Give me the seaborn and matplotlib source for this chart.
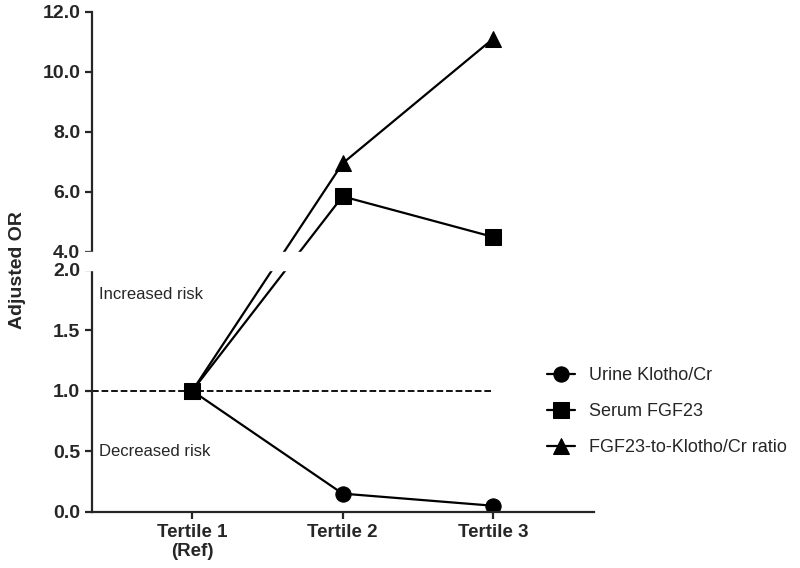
import numpy as np
import pandas as pd
import matplotlib.pyplot as plt
import matplotlib.patches as mpatches
import seaborn as sns

tertiles = [1, 2, 3]
tick_labels = ["Tertile 1\n(Ref)", "Tertile 2", "Tertile 3"]
klotho = [1.0, 0.15, 0.05]
fgf23 = [1.0, 5.85, 4.5]
ratio = [1.0, 6.95, 11.1]
names = ["Urine Klotho/Cr", "Serum FGF23", "FGF23-to-Klotho/Cr ratio"]
markers = ["o", "s", "^"]
low_ticks = [0, 0.5, 1.0, 1.5, 2.0]
high_ticks = [4, 6, 8, 10, 12]

data = pd.DataFrame({
    "tertile": tertiles * 3,
    "OR": klotho + fgf23 + ratio,
    "series": np.repeat(names, 3),
})

# broken y axis: 0-2 keeps full scale, 4-12 is squeezed, 2-4 becomes a small gap
GAP = 0.149
K = 0.248


def fwd(y):
    y = np.asarray(y, dtype=float)
    return np.where(y <= 2, y,
                    np.where(y < 4, 2 + (y - 2) * GAP / 2, 2 + GAP + (y - 4) * K))


def inv(t):
    t = np.asarray(t, dtype=float)
    return np.where(t <= 2, t,
                    np.where(t < 2 + GAP, 2 + (t - 2) * 2 / GAP, 4 + (t - 2 - GAP) / K))


sns.set_style("ticks")
plt.rcParams["font.family"] = ["Liberation Sans", "DejaVu Sans"]
plt.rcParams["axes.linewidth"] = 1.6
plt.rcParams["xtick.major.width"] = 1.6
plt.rcParams["ytick.major.width"] = 1.6

fig = plt.figure(figsize=(8, 5.68), dpi=100)
ax = fig.add_axes([0.115, 0.099, 0.627, 0.88])

sns.lineplot(data=data, x="tertile", y="OR", hue="series", style="series",
             markers=markers, dashes=False, palette=["black"] * 3,
             markersize=11, linewidth=1.6, markeredgecolor="black", ax=ax)

ax.set_yscale("function", functions=(fwd, inv))
ax.set_ylim(0, 12)
ax.set_xlim(0.333, 3.67)
ax.set_xlabel("")
ax.set_ylabel("")
ax.spines["top"].set_visible(False)
ax.spines["right"].set_visible(False)
ax.tick_params(axis="both", length=5)

ax.set_yticks(low_ticks + high_ticks)
ax.set_yticklabels([f"{v:.1f}" for v in low_ticks + high_ticks],
                   fontweight="bold", fontsize=14)
ax.set_xticks(tertiles)
ax.set_xticklabels(tick_labels, fontweight="bold", fontsize=13.5)

# white band hides lines and spine inside the break
band = mpatches.Rectangle((-0.02, 2.03), 1.03, 1.94, color="white", zorder=5,
                          clip_on=False, transform=ax.get_yaxis_transform())
ax.add_patch(band)

ax.plot([0.333, 3], [1, 1], ls="--", color="black", lw=1.3, zorder=0)
ax.text(0.38, 1.8, "Increased risk", fontsize=12, va="center")
ax.text(0.38, 0.5, "Decreased risk", fontsize=12, va="center")

fig.text(0.022, 0.525, "Adjusted OR", rotation=90, fontsize=14, fontweight="bold",
         va="center", ha="center")

ax.legend(loc="center left", bbox_to_anchor=(0.664, 0.275),
          bbox_transform=fig.transFigure, frameon=False, fontsize=13,
          handlelength=1.55, handletextpad=0.75, labelspacing=1.05)

fig.savefig("out.png", dpi=100)
